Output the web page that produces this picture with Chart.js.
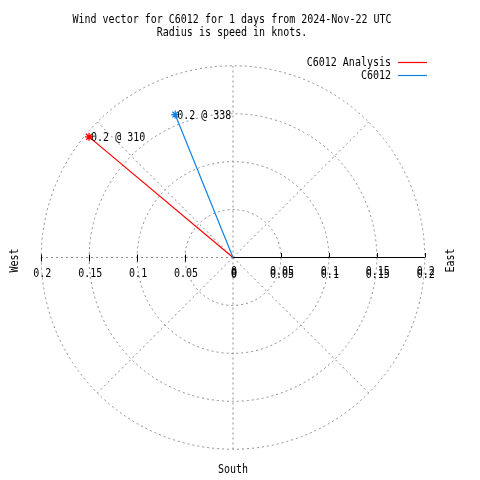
<!DOCTYPE html>
<html>
<head>
<meta charset="utf-8">
<script src="https://cdn.jsdelivr.net/npm/chart.js"></script>
<style>
html,body{margin:0;padding:0;background:#fff;}
#wrap{width:480px;height:480px;}
</style>
</head>
<body>
<div id="wrap"><canvas id="c" width="480" height="480"></canvas></div>
<script>
const titleLines = ['Wind vector for C6012 for 1 days from 2024-Nov-22 UTC', 'Radius is speed in knots.'];
const seriesNames = ['C6012 Analysis', 'C6012'];
const seriesColors = ['#ff0000', '#1080e8'];
const speeds = [0.196, 0.161];
const directions = [310, 338];
const ringValues = [0.05, 0.1, 0.15, 0.2];
const tickLabels = ['0', '0.05', '0.1', '0.15', '0.2'];
const spokeAngles = [0, 45, 90, 135, 180, 225, 270, 315];
const compassLabels = ['West', 'East', 'South'];
const rMax = 0.2;

const FONT = '10px "DejaVu Sans Mono"';

function toXY(s, d) {
  const a = d * Math.PI / 180;
  return { x: s * Math.sin(a), y: s * Math.cos(a) };
}

// text drawn slightly taller, like the bitmap font of the reference
function txt(ctx, s, x, y, rot) {
  ctx.save();
  ctx.translate(x, y);
  if (rot) ctx.rotate(rot);
  ctx.scale(1, 1.18);
  ctx.fillText(s, 0, 0);
  ctx.restore();
}

const datasets = seriesNames.map((name, i) => {
  const p = toXY(speeds[i], directions[i]);
  return {
    label: name,
    data: [{ x: 0, y: 0 }, p],
    showLine: true,
    borderColor: seriesColors[i],
    backgroundColor: seriesColors[i],
    borderWidth: 1.2,
    pointStyle: 'star',
    pointRadius: [0, 4],
    pointBorderWidth: 1.3,
    pointBorderColor: seriesColors[i],
    order: seriesNames.length - i
  };
});

const polarPlugin = {
  id: 'polar',
  beforeDatasetsDraw(chart) {
    const ctx = chart.ctx;
    const xs = chart.scales.x, ys = chart.scales.y;
    const cx = xs.getPixelForValue(0), cy = ys.getPixelForValue(0);
    const pr = v => xs.getPixelForValue(v) - cx;
    ctx.save();
    // rings
    ctx.strokeStyle = '#8c8c8c';
    ctx.lineWidth = 1;
    ctx.setLineDash([2, 3]);
    ringValues.forEach(v => {
      ctx.beginPath();
      ctx.arc(cx, cy, pr(v), 0, Math.PI * 2);
      ctx.stroke();
    });
    // spokes
    spokeAngles.forEach(a => {
      if (a === 90) return; // east drawn as solid axis
      const p = toXY(rMax, a);
      ctx.beginPath();
      ctx.moveTo(cx, cy);
      ctx.lineTo(xs.getPixelForValue(p.x), ys.getPixelForValue(p.y));
      ctx.stroke();
    });
    ctx.setLineDash([]);
    // east axis solid
    ctx.strokeStyle = '#000';
    ctx.beginPath();
    ctx.moveTo(cx, cy);
    ctx.lineTo(xs.getPixelForValue(rMax), cy);
    ctx.stroke();
    ringValues.forEach(v => {
      const xe = Math.round(xs.getPixelForValue(v)) + 0.5;
      ctx.beginPath();
      ctx.moveTo(xe, cy - 4.5);
      ctx.lineTo(xe, cy);
      ctx.stroke();
      const xw = Math.round(xs.getPixelForValue(-v)) + 0.5;
      ctx.beginPath();
      ctx.moveTo(xw, cy - 3);
      ctx.lineTo(xw, cy + 4);
      ctx.stroke();
    });
    // tick labels
    ctx.fillStyle = '#000';
    ctx.font = FONT;
    ctx.textAlign = 'center';
    ctx.textBaseline = 'middle';
    const tv = [0].concat(ringValues);
    tv.forEach((v, i) => {
      txt(ctx, tickLabels[i], xs.getPixelForValue(-v) + 1, cy + 16);
      txt(ctx, tickLabels[i], xs.getPixelForValue(v) + 1, cy + 14);
      txt(ctx, tickLabels[i], xs.getPixelForValue(v) + 1, cy + 17);
    });
    // compass labels
    txt(ctx, compassLabels[0], 15, cy + 3, -Math.PI / 2);
    txt(ctx, compassLabels[1], 451, cy + 3, -Math.PI / 2);
    txt(ctx, compassLabels[2], cx, 470);
    // title
    txt(ctx, titleLines[0], 232, 20);
    txt(ctx, titleLines[1], 232, 33);
    // legend
    ctx.textAlign = 'right';
    seriesNames.forEach((n, i) => {
      const y = 63 + i * 12.5;
      ctx.fillStyle = '#000';
      txt(ctx, n, 391, y);
      ctx.strokeStyle = seriesColors[i];
      ctx.lineWidth = 1.2;
      ctx.beginPath();
      ctx.moveTo(398, Math.round(y) - 0.5);
      ctx.lineTo(427, Math.round(y) - 0.5);
      ctx.stroke();
    });
    ctx.restore();
  },
  afterDatasetsDraw(chart) {
    const ctx = chart.ctx;
    ctx.save();
    ctx.font = FONT;
    ctx.fillStyle = '#000';
    ctx.textAlign = 'left';
    ctx.textBaseline = 'middle';
    chart.data.datasets.forEach((ds, i) => {
      const el = chart.getDatasetMeta(i).data[1];
      txt(ctx, speeds[i].toFixed(1) + ' @ ' + directions[i], el.x + 2, el.y + 1);
    });
    ctx.restore();
  }
};

new Chart(document.getElementById('c'), {
  type: 'scatter',
  data: { datasets },
  options: {
    responsive: false,
    animation: false,
    events: [],
    layout: { padding: { left: 41.25, right: 55.25, top: 66, bottom: 31 } },
    scales: {
      x: { type: 'linear', min: -rMax, max: rMax, display: false },
      y: { type: 'linear', min: -rMax, max: rMax, display: false }
    },
    plugins: { legend: { display: false }, title: { display: false }, tooltip: { enabled: false } }
  },
  plugins: [polarPlugin]
});
</script>
</body>
</html>
